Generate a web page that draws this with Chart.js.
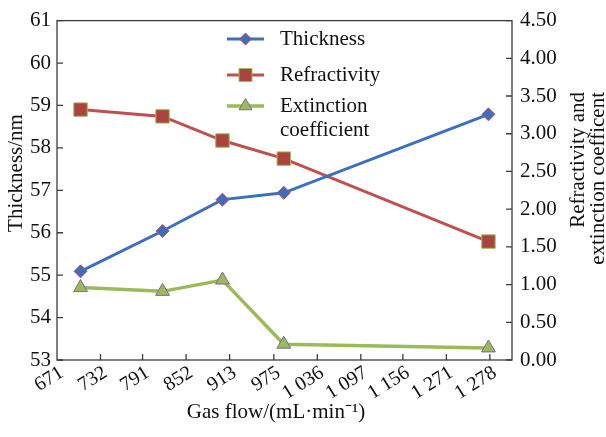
<!DOCTYPE html>
<html>
<head>
<meta charset="utf-8">
<script src="https://cdn.jsdelivr.net/npm/chart.js@4.4.1/dist/chart.umd.min.js"></script>
<style>
  html, body { margin: 0; padding: 0; background: #fff; }
  #wrap { width: 606px; height: 437px; }
</style>
</head>
<body>
<div id="wrap"><canvas id="flowChart"></canvas></div>
<script>
// gas flow (mL/min) of each sample
var gasFlow = [704, 819, 903, 989, 1276];
var thickness = [55.09, 56.04, 56.78, 56.94, 58.79];
var refractivity = [3.32, 3.23, 2.91, 2.67, 1.57];
var extinction = [0.96, 0.91, 1.06, 0.21, 0.16];

// x axis ticks and the labels printed under them
var tickValues = [671, 732, 791, 852, 913, 975, 1036, 1097, 1156, 1217, 1278];
var tickLabels = ['671', '732', '791', '852', '913', '975', '1 036', '1 097', '1 156', '1 271', '1 278'];

var serif = 'Liberation Serif';
var blue = '#3b6fc1';
var red = '#c0504d';
var green = '#9bbb59';

function pts(ys) {
    return gasFlow.map(function (x, i) { return { x: x, y: ys[i] }; });
}

// marker shapes, used for the legend swatches
function marker(ctx, kind, x, y) {
    ctx.beginPath();
    if (kind == 'diamond') {
        ctx.moveTo(x, y - 6); ctx.lineTo(x + 6, y); ctx.lineTo(x, y + 6); ctx.lineTo(x - 6, y);
        ctx.fillStyle = '#3e6dbd'; ctx.strokeStyle = '#c0504d';
    } else if (kind == 'square') {
        ctx.rect(x - 6.5, y - 6.5, 13, 13);
        ctx.fillStyle = '#ab433f'; ctx.strokeStyle = green;
    } else {
        ctx.moveTo(x, y - 7.5); ctx.lineTo(x + 6.5, y + 3.75); ctx.lineTo(x - 6.5, y + 3.75);
        ctx.fillStyle = green; ctx.strokeStyle = '#8064a2';
    }
    ctx.closePath();
    ctx.lineWidth = 1;
    ctx.fill();
    ctx.stroke();
}

const frame = {
    id: 'frame',
    beforeDatasetsDraw(chart) {
        const ctx = chart.ctx;
        const a = chart.chartArea;
        const sc = chart.scales;
        ctx.save();
        ctx.strokeStyle = '#3c3c3c';
        ctx.lineWidth = 1.3;
        ctx.strokeRect(a.left, a.top, a.right - a.left, a.bottom - a.top);
        ctx.beginPath();
        sc.x.ticks.forEach(function (t) {
            var px = sc.x.getPixelForValue(t.value);
            if (px > a.left + 2) { ctx.moveTo(px, a.bottom); ctx.lineTo(px, a.bottom - 6); }
        });
        sc.y.ticks.forEach(function (t) {
            var py = sc.y.getPixelForValue(t.value);
            ctx.moveTo(a.left, py); ctx.lineTo(a.left + 6, py);
        });
        sc.y1.ticks.forEach(function (t) {
            var py = sc.y1.getPixelForValue(t.value);
            ctx.moveTo(a.right, py); ctx.lineTo(a.right - 6, py);
        });
        ctx.stroke();
        ctx.restore();
    },
    afterDraw(chart) {
        const ctx = chart.ctx;
        ctx.save();
        ctx.fillStyle = '#111';
        ctx.font = '21px "' + serif + '"';
        ctx.textBaseline = 'middle';

        // axis titles
        ctx.textAlign = 'center';
        ctx.fillText('Gas flow/(mL\u00b7min\u207b\u00b9)', 276, 412);
        ctx.save();
        ctx.translate(16, 173);
        ctx.rotate(-Math.PI / 2);
        ctx.fillText('Thickness/nm', 0, 0);
        ctx.restore();
        ctx.save();
        ctx.translate(578, 92);
        ctx.rotate(-Math.PI / 2);
        ctx.textAlign = 'right';
        ctx.fillText('Refractivity and', 0, 0);
        ctx.fillText('extinction coefficent', 0, 20);
        ctx.restore();

        // legend
        var rows = [
            { text: ['Thickness'], y: 39, color: blue, w: 3, kind: 'diamond' },
            { text: ['Refractivity'], y: 75, color: red, w: 3, kind: 'square' },
            { text: ['Extinction', 'coefficient'], y: 106, color: green, w: 3.5, kind: 'triangle' }
        ];
        rows.forEach(function (r) {
            ctx.beginPath();
            ctx.strokeStyle = r.color;
            ctx.lineWidth = r.w;
            ctx.moveTo(227, r.y); ctx.lineTo(264, r.y);
            ctx.stroke();
            marker(ctx, r.kind, 245.5, r.y);
            ctx.fillStyle = '#111';
            ctx.textAlign = 'left';
            r.text.forEach(function (s, i) { ctx.fillText(s, 280, r.y + i * 24); });
        });
        ctx.restore();
    }
};

Chart.defaults.font.family = serif;
Chart.defaults.font.size = 21;
Chart.defaults.color = '#111';

new Chart(document.getElementById('flowChart'), {
    type: 'line',
    data: {
        datasets: [{
            label: 'Thickness',
            data: pts(thickness),
            yAxisID: 'y',
            borderColor: blue,
            borderWidth: 3,
            pointStyle: 'rectRot',
            pointRadius: 6.5,
            pointBackgroundColor: '#3e6dbd',
            pointBorderColor: '#c0504d',
            pointBorderWidth: 1
        }, {
            label: 'Refractivity',
            data: pts(refractivity),
            yAxisID: 'y1',
            borderColor: red,
            borderWidth: 3,
            pointStyle: 'rect',
            pointRadius: 9.5,
            pointBackgroundColor: '#ab433f',
            pointBorderColor: green,
            pointBorderWidth: 1
        }, {
            label: 'Extinction coefficient',
            data: pts(extinction),
            yAxisID: 'y1',
            borderColor: green,
            borderWidth: 3.5,
            pointStyle: 'triangle',
            pointRadius: 8,
            pointBackgroundColor: green,
            pointBorderColor: '#8064a2',
            pointBorderWidth: 1
        }]
    },
    options: {
        responsive: true,
        maintainAspectRatio: false,
        animation: false,
        layout: { padding: { top: 19, left: 0, right: 0, bottom: 0 } },
        plugins: { legend: { display: false }, tooltip: { enabled: false } },
        scales: {
            x: {
                type: 'linear',
                min: 671,
                max: 1309,
                grid: { display: false, drawTicks: false },
                border: { display: false },
                afterBuildTicks: function (scale) {
                    scale.ticks = tickValues.map(function (v) { return { value: v }; });
                },
                afterFit: function (scale) { scale.height = 77; },
                ticks: {
                    autoSkip: false,
                    minRotation: 32,
                    maxRotation: 32,
                    padding: 1,
                    labelOffset: 5,
                    font: { size: 20 },
                    callback: function (v, i) { return tickLabels[i]; }
                }
            },
            y: {
                position: 'left',
                min: 53,
                max: 61,
                grid: { display: false, drawTicks: false },
                border: { display: false },
                afterFit: function (scale) { scale.width = 57; },
                ticks: { stepSize: 1, padding: 6 }
            },
            y1: {
                position: 'right',
                min: 0,
                max: 4.5,
                grid: { display: false, drawTicks: false },
                border: { display: false },
                afterFit: function (scale) { scale.width = 94; },
                ticks: {
                    stepSize: 0.5,
                    padding: 8,
                    callback: function (v) { return v.toFixed(2); }
                }
            }
        }
    },
    plugins: [frame]
});
</script>
</body>
</html>
